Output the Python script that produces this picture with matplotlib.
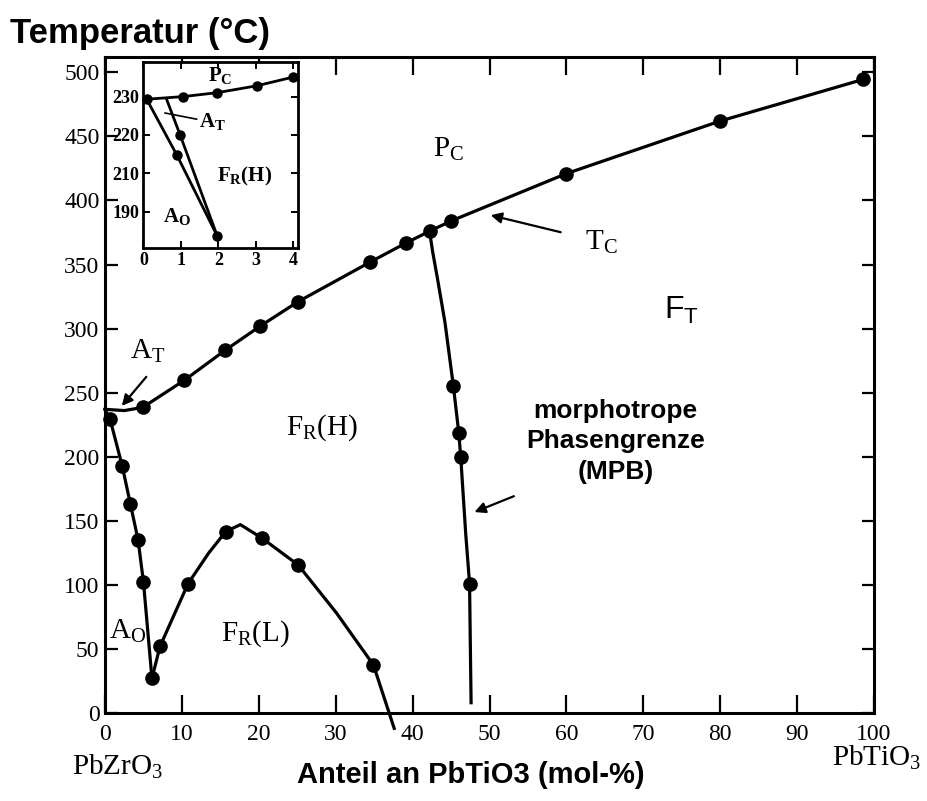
import matplotlib
matplotlib.use('Agg')
import matplotlib.pyplot as plt

plt.rcParams['font.family'] = 'Liberation Serif'
plt.rcParams['mathtext.fontset'] = 'custom'
plt.rcParams['mathtext.rm'] = 'Liberation Serif'
plt.rcParams['mathtext.sf'] = 'Liberation Sans'
plt.rcParams['mathtext.bf'] = 'Liberation Serif:bold'

# phase boundaries, mol-% PbTiO3 vs temperature in degC
tc_x = [0, 2.5, 4.9, 10.3, 15.6, 20.2, 25.1, 34.5, 39.2, 42.2, 45.0, 60, 80, 98.6]
tc_y = [237, 236, 238.5, 259.6, 283, 302, 321, 352, 367, 376, 384, 421, 462, 494.5]
tc_dot_x = [4.9, 10.3, 15.6, 20.2, 25.1, 34.5, 39.2, 42.2, 45.0, 60, 80, 98.6]
tc_dot_y = [238.5, 259.6, 283, 302, 321, 352, 367, 376, 384, 421, 462, 494.5]

ao_x = [0, 0.65, 2.25, 3.3, 4.3, 5.0, 6.1]
ao_y = [237, 229.4, 192.4, 163, 135, 102, 27]
ao_dot_x = [0.65, 2.25, 3.3, 4.3, 5.0, 6.1]
ao_dot_y = [229.4, 192.4, 163, 135, 102, 27]

frl_x = [6.1, 7.15, 10.8, 13.5, 15.7, 17.6, 20.4, 25.1, 30.1, 34.9, 37.6]
frl_y = [27, 52, 101, 125, 141.6, 147, 136.5, 115.6, 78, 37.5, -12]
frl_dot_x = [7.15, 10.8, 15.7, 20.4, 25.1, 34.9]
frl_dot_y = [52, 101, 141.6, 136.5, 115.6, 37.5]

mpb_x = [42.2, 42.6, 43.2, 44.2, 45.3, 46.0, 46.25, 46.9, 47.4, 47.55, 47.6]
mpb_y = [376, 360, 340, 305, 255, 218.5, 200, 140, 101, 30, 8]
mpb_dot_x = [45.3, 46.0, 46.25, 47.4]
mpb_dot_y = [255, 218.5, 200, 101]

# detail near pure PbZrO3
ins_tc_x = [0.09, 1.07, 1.96, 3.02, 4.0]
ins_tc_y = [229.3, 230.0, 231.0, 232.8, 235.1]
ins_ao_x = [0.09, 0.89, 1.97]
ins_ao_y = [229.3, 214.8, 193.6]
ins_at_x = [0.62, 0.98, 1.97]
ins_at_y = [229.3, 220.0, 193.6]
ins_dot_x = [0.09, 1.07, 1.96, 3.02, 4.0, 0.98, 0.89, 1.97]
ins_dot_y = [229.3, 230.0, 231.0, 232.8, 235.1, 220.0, 214.8, 193.6]
ins_yticks = [230, 220, 210, 200]
ins_ylabels = ['230', '220', '210', '190']

fig = plt.figure(figsize=(9.27, 8.01), dpi=100)
ax = fig.add_axes([0.1133, 0.1099, 0.8296, 0.819])

line_kw = dict(color='black', lw=2.3, solid_joinstyle='round', clip_on=False)
dot_kw = dict(ls='none', marker='o', ms=9.5, color='black', clip_on=False)
for xs, ys in [(tc_x, tc_y), (ao_x, ao_y), (frl_x, frl_y), (mpb_x, mpb_y)]:
    ax.plot(xs, ys, **line_kw)
for xs, ys in [(tc_dot_x, tc_dot_y), (ao_dot_x, ao_dot_y),
               (frl_dot_x, frl_dot_y), (mpb_dot_x, mpb_dot_y)]:
    ax.plot(xs, ys, **dot_kw)

ax.set_xlim(0, 100)
ax.set_ylim(0, 512)
ax.set_xticks(range(0, 101, 10))
ax.set_yticks(range(0, 501, 50))
ax.tick_params(direction='in', top=True, right=True, labelsize=17, width=1.6)
ax.tick_params(axis='x', length=13, pad=8)
ax.tick_params(axis='y', length=9, pad=4)
for s in ax.spines.values():
    s.set_linewidth(2.2)

# region labels
lab = dict(fontsize=21, ha='center', va='center')
ax.text(44.7, 440, r'$\mathrm{P_C}$', **lab)
ax.text(64.5, 367, r'$\mathrm{T_C}$', **lab)
ax.text(75, 314, r'$\mathsf{F_T}$', fontsize=23, ha='center', va='center')
ax.text(5.6, 282, r'$\mathrm{A_T}$', **lab)
ax.text(28.2, 223, r'$\mathrm{F_R(H)}$', **lab)
ax.text(2.9, 64, r'$\mathrm{A_O}$', **lab)
ax.text(19.5, 62, r'$\mathrm{F_R(L)}$', **lab)
ax.text(66.4, 212, 'morphotrope\nPhasengrenze\n(MPB)', family='Liberation Sans',
        weight='bold', fontsize=19, ha='center', va='center', linespacing=1.35)

arr = dict(arrowstyle='-|>', color='black', lw=1.6, mutation_scale=16)
ax.annotate('', xy=(49.8, 389), xytext=(59.6, 374.7), arrowprops=arr)
ax.annotate('', xy=(1.95, 238), xytext=(5.6, 264), arrowprops=arr)
ax.annotate('', xy=(47.7, 156), xytext=(53.5, 170), arrowprops=arr)

fig.text(0.011, 0.958, 'Temperatur (°C)', family='Liberation Sans', weight='bold',
         fontsize=25, ha='left', va='center')
fig.text(0.508, 0.033, 'Anteil an PbTiO3 (mol-%)', family='Liberation Sans',
         weight='bold', fontsize=21, ha='center', va='center')
fig.text(0.127, 0.043, r'$\mathrm{PbZrO_3}$', fontsize=21, ha='center', va='center')
fig.text(0.946, 0.054, r'$\mathrm{PbTiO_3}$', fontsize=21, ha='center', va='center')

# inset
axi = fig.add_axes([0.1546, 0.690, 0.1672, 0.233])
ins_line = dict(color='black', lw=2.0)
axi.plot(ins_tc_x, ins_tc_y, **ins_line)
axi.plot(ins_ao_x, ins_ao_y, **ins_line)
axi.plot(ins_at_x, ins_at_y, **ins_line)
axi.plot(ins_dot_x, ins_dot_y, ls='none', marker='o', ms=6.5, color='black', clip_on=False)
axi.plot([0.58, 1.42], [225.7, 224.1], color='black', lw=1.2)
axi.set_xlim(0, 4.13)
axi.set_ylim(190.4, 239.1)
axi.set_xticks(range(0, 5))
axi.set_yticks(ins_yticks)
axi.set_yticklabels(ins_ylabels)
axi.tick_params(direction='in', top=True, right=True, length=5, width=1.4,
                labelsize=13, pad=3)
for t in axi.get_xticklabels() + axi.get_yticklabels():
    t.set_fontweight('bold')
for s in axi.spines.values():
    s.set_linewidth(2.0)

ilab = dict(fontsize=15, ha='center', va='center')
axi.text(2.05, 235.6, r'$\mathbf{P_C}$', **ilab)
axi.text(1.85, 223.5, r'$\mathbf{A_T}$', **ilab)
axi.text(2.7, 209.1, r'$\mathbf{F_R(H)}$', **ilab)
axi.text(0.9, 198.7, r'$\mathbf{A_O}$', **ilab)

fig.savefig('out.png', dpi=100)
